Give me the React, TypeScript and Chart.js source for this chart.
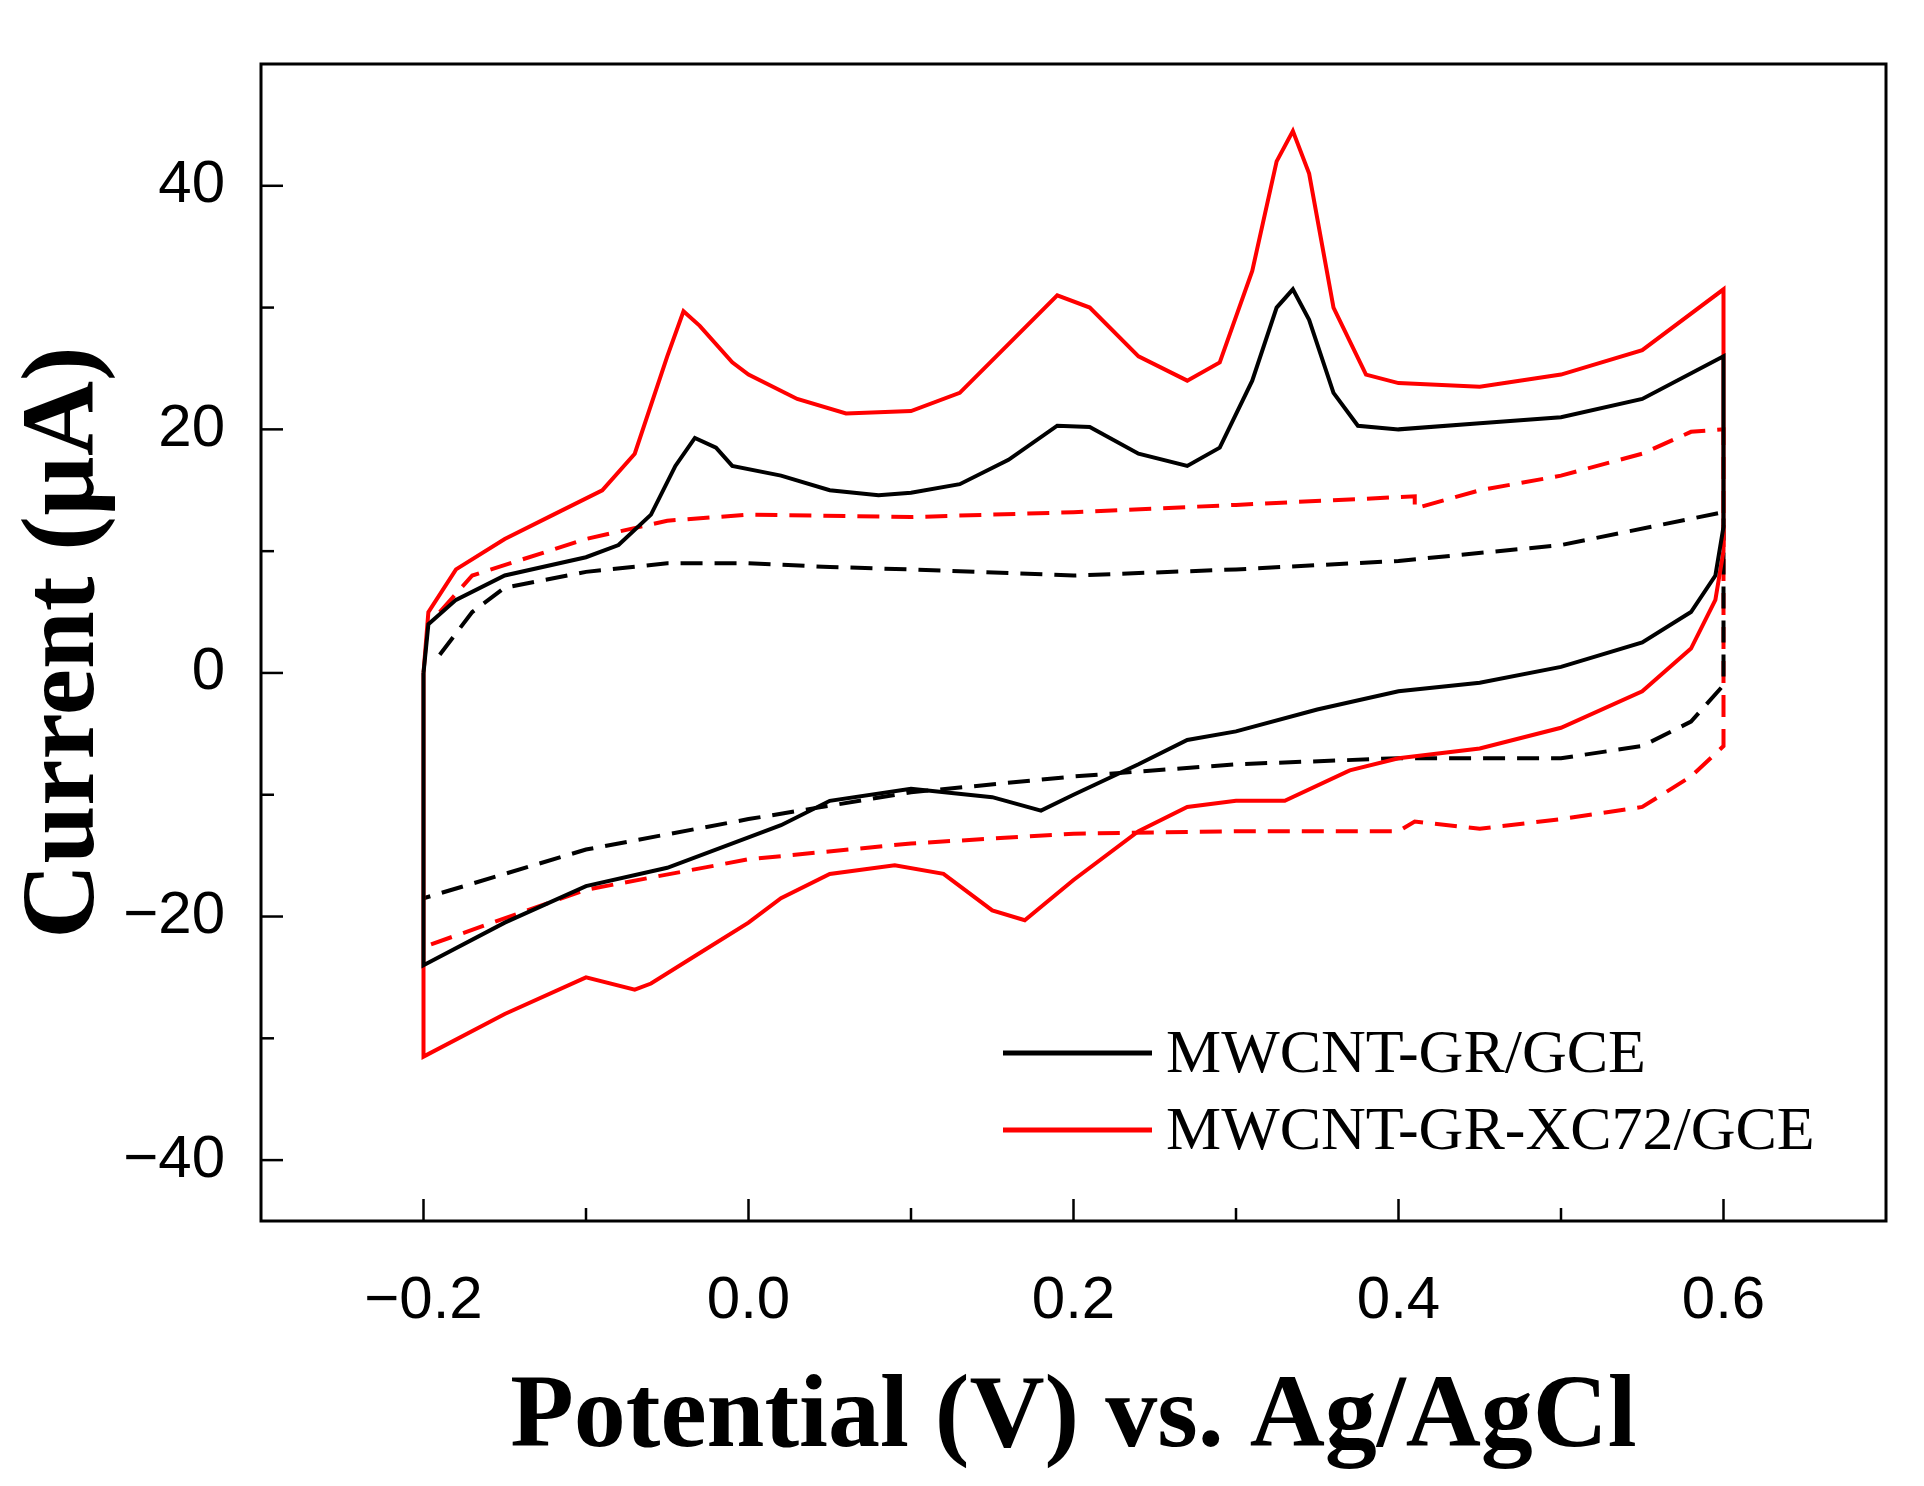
import React, { useEffect, useRef } from "react";
import { Chart, registerables } from "chart.js";
Chart.register(...registerables);

type P = { x: number; y: number };
const pts = (a: number[][]): P[] => a.map(([x, y]) => ({ x, y }));

const blackSolid = pts([[-0.2,0],[-0.197,4],[-0.18,6],[-0.15,8],[-0.1,9.5],[-0.08,10.5],[-0.06,13],[-0.045,17],[-0.033,19.3],[-0.02,18.5],[-0.01,17],[0.02,16.2],[0.05,15],[0.08,14.6],[0.1,14.8],[0.13,15.5],[0.16,17.5],[0.19,20.3],[0.21,20.2],[0.24,18],[0.27,17],[0.29,18.5],[0.31,24],[0.325,30],[0.335,31.5],[0.345,29],[0.36,23],[0.375,20.3],[0.4,20],[0.45,20.5],[0.5,21],[0.55,22.5],[0.6,26],[0.6,12],[0.595,8],[0.58,5],[0.55,2.5],[0.5,0.5],[0.45,-0.8],[0.4,-1.5],[0.35,-3],[0.3,-4.8],[0.27,-5.5],[0.24,-7.5],[0.2,-10],[0.18,-11.3],[0.15,-10.2],[0.1,-9.5],[0.05,-10.5],[0.02,-12.5],[0,-13.5],[-0.05,-16],[-0.1,-17.5],[-0.15,-20.5],[-0.2,-24],[-0.2,0]]);
const redSolid = pts([[-0.2,0],[-0.197,5],[-0.18,8.5],[-0.15,11],[-0.12,13],[-0.09,15],[-0.07,18],[-0.05,26],[-0.04,29.7],[-0.03,28.5],[-0.01,25.5],[0,24.5],[0.03,22.5],[0.06,21.3],[0.1,21.5],[0.13,23],[0.16,27],[0.19,31],[0.21,30],[0.24,26],[0.27,24],[0.29,25.5],[0.31,33],[0.325,42],[0.335,44.5],[0.345,41],[0.36,30],[0.38,24.5],[0.4,23.8],[0.45,23.5],[0.5,24.5],[0.55,26.5],[0.6,31.5],[0.6,10],[0.595,6],[0.58,2],[0.55,-1.5],[0.5,-4.5],[0.45,-6.2],[0.4,-7],[0.37,-8],[0.33,-10.5],[0.3,-10.5],[0.27,-11],[0.24,-13],[0.2,-17],[0.17,-20.3],[0.15,-19.5],[0.12,-16.5],[0.09,-15.8],[0.05,-16.5],[0.02,-18.5],[0,-20.5],[-0.03,-23],[-0.06,-25.5],[-0.07,-26],[-0.1,-25],[-0.15,-28],[-0.2,-31.5],[-0.2,0]]);
const blackDash = pts([[-0.19,1.5],[-0.17,5],[-0.15,7],[-0.1,8.3],[-0.05,9],[0,9],[0.05,8.7],[0.1,8.5],[0.2,8],[0.3,8.5],[0.4,9.2],[0.5,10.5],[0.6,13.2],[0.6,4],[0.6,-1],[0.58,-4],[0.55,-6],[0.5,-7],[0.4,-7],[0.3,-7.5],[0.2,-8.5],[0.1,-9.8],[0,-12],[-0.1,-14.5],[-0.2,-18.5]]);
const redDash = pts([[-0.19,5],[-0.17,8],[-0.1,11],[-0.05,12.5],[0,13],[0.1,12.8],[0.2,13.2],[0.3,13.8],[0.41,14.5],[0.41,13.5],[0.45,15],[0.5,16.2],[0.55,18],[0.58,19.8],[0.6,20],[0.6,10],[0.6,-6],[0.58,-8.5],[0.55,-11],[0.5,-12],[0.45,-12.8],[0.41,-12.2],[0.4,-13],[0.3,-13],[0.2,-13.2],[0.1,-14],[0,-15.3],[-0.1,-17.8],[-0.2,-22.5]]);

const xTicks = [-0.2, 0, 0.2, 0.4, 0.6];
const yTicks = [-40, -20, 0, 20, 40];
const legendLabels = ["MWCNT-GR/GCE", "MWCNT-GR-XC72/GCE"];
const legendColors = ["#000000", "#ff0000"];

const fmt = (v: number, d: number) => (v < 0 ? "\u2212" : "") + Math.abs(v).toFixed(d);

export default function App() {
  const ref = useRef<HTMLCanvasElement>(null);
  useEffect(() => {
    document.body.style.margin = "0";
    const deco = {
      id: "deco",
      afterDraw(c: any) {
        const { ctx, chartArea: a, scales } = c;
        const xs = scales.x, ys = scales.y;
        ctx.save();
        ctx.strokeStyle = "#000";
        ctx.lineWidth = 3;
        ctx.strokeRect(a.left, a.top, a.right - a.left, a.bottom - a.top);
        ctx.lineWidth = 2.5;
        for (let v = -0.2; v <= 0.61; v += 0.1) {
          const px = xs.getPixelForValue(v);
          const major = Math.round(v * 10) % 2 === 0;
          ctx.beginPath(); ctx.moveTo(px, a.bottom); ctx.lineTo(px, a.bottom - (major ? 22 : 13)); ctx.stroke();
        }
        for (let v = -40; v <= 40; v += 10) {
          const py = ys.getPixelForValue(v);
          const major = v % 20 === 0;
          ctx.beginPath(); ctx.moveTo(a.left, py); ctx.lineTo(a.left + (major ? 22 : 13), py); ctx.stroke();
        }
        ctx.font = '62px "Liberation Serif"';
        ctx.textBaseline = "middle";
        legendLabels.forEach((t, i) => {
          const y = 1053 + i * 77;
          ctx.strokeStyle = legendColors[i];
          ctx.lineWidth = 5;
          ctx.beginPath(); ctx.moveTo(1003, y); ctx.lineTo(1152, y); ctx.stroke();
          ctx.fillStyle = "#000";
          ctx.fillText(t, 1166, y + 3);
        });
        ctx.restore();
      },
    };
    const mk = (label: string, data: P[], color: string, dash: number[]) => ({
      label, data, borderColor: color, borderWidth: 4, borderDash: dash,
      pointRadius: 0, showLine: true, fill: false, tension: 0,
    });
    const chart = new Chart(ref.current!, {
      type: "scatter",
      data: {
        datasets: [
          mk("MWCNT-GR/GCE", blackSolid, "#000", []),
          mk("MWCNT-GR-XC72/GCE", redSolid, "#ff0000", []),
          mk("MWCNT-GR/GCE dashed", blackDash, "#000", [22, 12]),
          mk("MWCNT-GR-XC72/GCE dashed", redDash, "#ff0000", [22, 12]),
        ],
      },
      plugins: [deco],
      options: {
        animation: false,
        responsive: false,
        layout: { padding: { top: 15, right: 38, left: 0, bottom: 0 } },
        plugins: { legend: { display: false }, tooltip: { enabled: false } },
        scales: {
          x: {
            type: "linear", min: -0.3, max: 0.7,
            afterBuildTicks: (s: any) => { s.ticks = xTicks.map((v) => ({ value: v })); },
            afterFit: (s: any) => { s.height = 265; },
            grid: { display: false }, border: { display: false },
            ticks: { color: "#000", font: { family: "Liberation Sans", size: 60 }, padding: 36, callback: (v: any) => fmt(Number(v), 1) },
            title: { display: true, text: "Potential (V) vs. Ag/AgCl", color: "#000", font: { family: "Liberation Serif", size: 104, weight: "bold" }, padding: { top: 25 } },
          },
          y: {
            type: "linear", min: -45, max: 50,
            afterBuildTicks: (s: any) => { s.ticks = yTicks.map((v) => ({ value: v })); },
            afterFit: (s: any) => { s.width = 261; },
            grid: { display: false }, border: { display: false },
            ticks: { color: "#000", font: { family: "Liberation Sans", size: 60 }, padding: 28, callback: (v: any) => fmt(Number(v), 0) },
            title: { display: true, text: "Current (\u00b5A)", color: "#000", font: { family: "Liberation Serif", size: 104, weight: "bold" }, padding: { bottom: 0 } },
          },
        },
      },
    } as any);
    return () => chart.destroy();
  }, []);
  return <canvas ref={ref} width={1924} height={1486} style={{ display: "block" }} />;
}
